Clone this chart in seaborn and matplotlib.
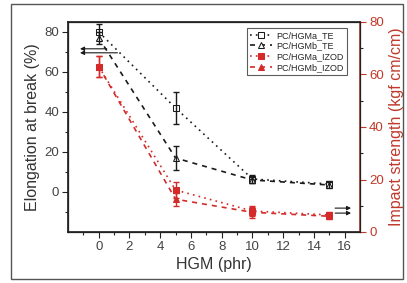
import numpy as np
import pandas as pd
import matplotlib
matplotlib.use("Agg")
import matplotlib.pyplot as plt
import matplotlib.patches as mpatches
import seaborn as sns

# data
hgm = [0, 5, 10, 15]
te_a = [80, 42, 6.5, 4]
te_a_err = [4, 8, 2, 1.5]
te_b = [77, 17, 6, 3.5]
te_b_err = [3, 6, 1.5, 1.5]
izod_a = [63, 16, 8, 6.5]
izod_a_err = [4, 3, 2, 1]
izod_b = [63, 12.5, 7.5, 6]
izod_b_err = [4, 2.5, 2, 1]

RED = "#d42a2a"
AX_RED = "#c0392b"

sns.set_theme(style="ticks")
plt.rcParams['font.family'] = ['Liberation Sans', 'DejaVu Sans']

fig = plt.figure(figsize=(4.07, 2.83), dpi=100)
ax = fig.add_axes([68/407, 51/283, 292/407, 210/283])
ax2 = ax.twinx()

series = [
    (ax, "PC/HGMa_TE", te_a, te_a_err, "k", (0, (1, 2.5)), "s", "white"),
    (ax, "PC/HGMb_TE", te_b, te_b_err, "k", (0, (3, 3)), "^", "white"),
    (ax2, "PC/HGMa_IZOD", izod_a, izod_a_err, RED, (0, (1, 2.5)), "s", RED),
    (ax2, "PC/HGMb_IZOD", izod_b, izod_b_err, RED, (0, (3, 3)), "^", RED),
]

handles = []
for a, name, vals, errs, col, ls, mk, mfc in series:
    df = pd.DataFrame({"x": hgm, "y": vals})
    sns.lineplot(data=df, x="x", y="y", ax=a, color=col, linestyle=ls, linewidth=1.2,
                 marker=mk, markersize=4, markerfacecolor=mfc, markeredgecolor=col,
                 legend=False)
    handles.append(a.get_lines()[-1])
    a.errorbar(hgm, vals, yerr=errs, fmt="none", ecolor=col, elinewidth=1, capsize=2.5)

leg = ax.legend(handles, [s[1] for s in series], loc="upper right", bbox_to_anchor=(0.97, 0.995),
                fontsize=6.5, frameon=True, fancybox=False, edgecolor="#333333",
                handlelength=2.4, borderpad=0.35, labelspacing=0.2, handletextpad=0.5)
leg.get_frame().set_linewidth(0.8)
ax.set_zorder(ax2.get_zorder() + 1)
ax.patch.set_visible(False)

ax.set_xlim(-2, 17)
ax.set_ylim(-20, 85)
ax2.set_ylim(0, 80)

ax.set_xticks(np.arange(0, 17, 2))
ax.set_xticks(np.arange(-1, 17, 1), minor=True)
ax.set_yticks([0, 20, 40, 60, 80])
ax.set_yticks(np.arange(-10, 85, 10), minor=True)
ax2.set_yticks([0, 20, 40, 60, 80])
ax2.set_yticks(np.arange(0, 81, 10), minor=True)

for a in (ax, ax2):
    a.tick_params(which="major", direction="out", length=4, width=0.8, labelsize=9.5, pad=2.5)
    a.tick_params(which="minor", direction="out", length=2, width=0.8)
ax.tick_params(axis="both", colors="#222222", labelcolor="#444444")
ax2.tick_params(axis="y", colors=AX_RED, labelcolor=AX_RED)
for sp in ax.spines.values():
    sp.set_color("#222222")
    sp.set_linewidth(0.9)
ax2.spines["right"].set_color(AX_RED)

ax.set_xlabel("HGM (phr)", fontsize=11.5, color="#333333", labelpad=3)
ax.set_ylabel("Elongation at break (%)", fontsize=11.5, color="#333333", labelpad=3)
ax2.set_ylabel("Impact strength (kgf cm/cm)", fontsize=11.5, color=AX_RED, labelpad=4)

# arrows pointing to the axis each group belongs to
arrow = dict(arrowstyle="-|>", color="k", lw=0.8, mutation_scale=6)
ax.annotate("", xy=(-1.4, 71.6), xytext=(0.7, 71.6), arrowprops=arrow)
ax.annotate("", xy=(-1.4, 69.6), xytext=(1.4, 69.6), arrowprops=arrow)
ax2.annotate("", xy=(16.6, 9.1), xytext=(15.2, 9.1), arrowprops=arrow)
ax2.annotate("", xy=(16.6, 7.2), xytext=(15.2, 7.2), arrowprops=arrow)

fig.patches.append(mpatches.Rectangle((11/407, 4/283), 392/407, 275/283, transform=fig.transFigure,
                                      fill=False, edgecolor="#555555", linewidth=1))

fig.savefig("out.png", dpi=100)
